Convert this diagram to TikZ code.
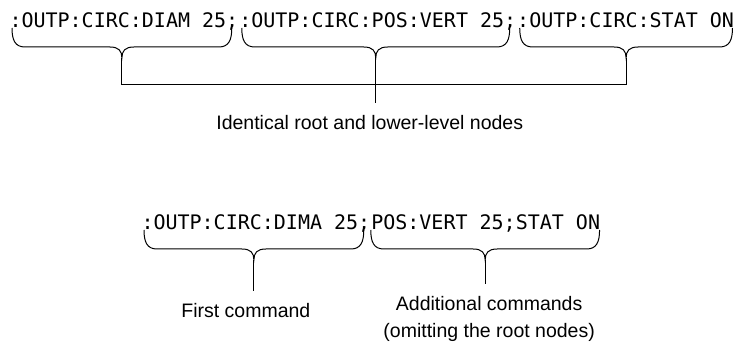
\documentclass[tikz,border=0pt]{standalone}
\usepackage{fontspec}
\usepackage{tikz}
\usetikzlibrary{calc,positioning}
\newfontfamily\cmdfont{DejaVu Sans Mono}
\newfontfamily\lblfont{Liberation Sans}

\begin{document}
\begin{tikzpicture}[x=1pt,y=1pt,line width=1pt,
    cmd/.style={font={\cmdfont\fontsize{20}{24}\selectfont}, inner sep=0pt, anchor=base west},
    lbl/.style={font={\lblfont\fontsize{19.5}{27}\selectfont}, inner xsep=0pt, inner ysep=12pt, align=center},
    cbrace/.style={to path={let \p1=(\tikztostart), \p2=(\tikztotarget), \p3=($(\p1)!0.5!(\p2)$) in
      (\p1) .. controls (\x1,\y1-12) and (\x1+3,\y1-19) .. (\x1+13,\y1-19)
      -- (\x3-12,\y1-19) .. controls (\x3-3,\y1-19) and (\x3,\y1-23) .. (\x3,\y1-30) coordinate (#1)
      .. controls (\x3,\y1-23) and (\x3+3,\y1-19) .. (\x3+12,\y1-19)
      -- (\x2-13,\y1-19) .. controls (\x2-3,\y1-19) and (\x2,\y1-12) .. (\p2)}}]
    \useasboundingbox (0,0) rectangle (738,350);

            % Three separate commands
            \node[cmd] (cmdA) at (9,322) {:OUTP:CIRC:DIAM 25;};
            \node[cmd] (cmdB) at (cmdA.base east) {:OUTP:CIRC:POS:VERT 25;};
            \node[cmd] (cmdC) at (cmdB.base east) {:OUTP:CIRC:STAT ON};

             \draw[cbrace=tipA] ([xshift=3pt]cmdA.base west) to ([xshift=-7pt]cmdA.base east);
             \draw[cbrace=tipB] ([xshift=3pt]cmdB.base west) to ([xshift=-7pt]cmdB.base east);
             \draw[cbrace=tipC] ([xshift=3pt]cmdC.base west) to ([xshift=-2pt]cmdC.base east);

            % Draw bar and label
            \node[lbl, below=45pt of tipB, xshift=-6pt] (lblTop) {Identical root and lower-level nodes};
	      \draw (tipA) -- ++(0,-27) -| (tipC);
	      \draw (tipB) -- (tipB |- lblTop.north);

            % Combined command
            \node[cmd] (cmdD) at (141,120) {:OUTP:CIRC:DIMA 25;};
            \node[cmd] (cmdE) at (cmdD.base east) {POS:VERT 25;STAT ON};

             \draw[cbrace=tipD] ([xshift=3pt]cmdD.base west) to ([xshift=-7pt]cmdD.base east);
             \draw[cbrace=tipE] (cmdE.base west) to ([xshift=-1pt]cmdE.base east);

            % Draw labels below
            \node[lbl, below=31pt of tipD, xshift=-8pt] (lblFirst) {First command};
            \node[lbl, below=24pt of tipE, xshift=4pt] (lblMore) {Additional commands\\(omitting the root nodes)};
	      \draw (tipD) -- (tipD |- lblFirst.north);
	      \draw (tipE) -- (tipE |- lblMore.north);
        \end{tikzpicture}
\end{document}
